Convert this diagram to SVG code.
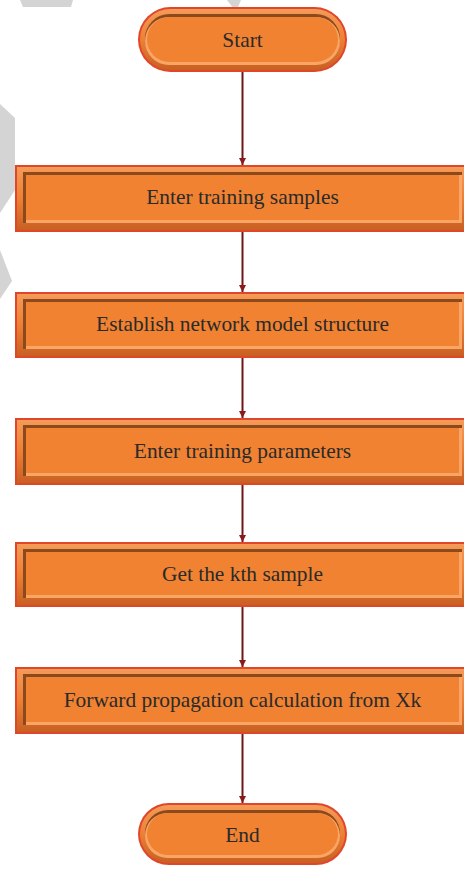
<svg xmlns="http://www.w3.org/2000/svg" width="464" height="869" viewBox="0 0 464 869">
<defs>
<style>
.bord{fill:#E0462A}
.band{fill:url(#bandG)}
.dk{fill:#8C4A1C}
.lt{fill:#F8A565}
.main{fill:#F08232}
.lbl{font-family:"Liberation Serif","Times New Roman",serif;font-size:21.4px;fill:#2a2a2a;text-anchor:middle}
.wm{fill:#D4D4D4}
.conn{stroke:#6E1616;stroke-width:2;fill:none}
</style>
<linearGradient id="bandG" x1="0" y1="0" x2="0" y2="1">
<stop offset="0" stop-color="#F59A58"/>
<stop offset="0.5" stop-color="#EE8034"/>
<stop offset="1" stop-color="#C86022"/>
</linearGradient>
<marker id="ah" viewBox="0 0 10 10" refX="10" refY="5" markerWidth="7" markerHeight="7" orient="auto" markerUnits="userSpaceOnUse">
<path d="M0,0 L10,5 L0,10 z" fill="#8B1A1A"/>
</marker>
</defs>
<rect width="464" height="869" fill="#ffffff"/>
<g id="watermark">
<polygon class="wm" points="20,0 73,0 71,7 23,7"/>
<polygon class="wm" points="227,0 241,0 236,12"/>
<polygon class="wm" points="0,104 15,118 15,190 0,213"/>
<polygon class="wm" points="0,250 12,281 0,299"/>
</g>
<g id="connectors">
<line class="conn" x1="242.5" y1="72" x2="242.5" y2="165" marker-end="url(#ah)"/>
<line class="conn" x1="242.5" y1="232" x2="242.5" y2="292" marker-end="url(#ah)"/>
<line class="conn" x1="242.5" y1="358" x2="242.5" y2="418" marker-end="url(#ah)"/>
<line class="conn" x1="242.5" y1="485" x2="242.5" y2="542" marker-end="url(#ah)"/>
<line class="conn" x1="242.5" y1="607" x2="242.5" y2="667" marker-end="url(#ah)"/>
<line class="conn" x1="242.5" y1="734" x2="242.5" y2="803" marker-end="url(#ah)"/>
</g>
<g id="start">
<rect class="bord" x="138" y="7" width="209" height="65" rx="32.5"/>
<rect class="band" x="140" y="9" width="205" height="61" rx="30.5"/>
<rect class="dk" x="145" y="14" width="195" height="49" rx="24.5"/>
<rect class="lt" x="145" y="17" width="195" height="48" rx="24"/>
<rect class="main" x="147" y="17" width="191" height="45" rx="22.5"/>
<text class="lbl" x="242.5" y="47">Start</text>
</g>
<g id="n1">
<rect class="bord" x="15" y="165" width="460" height="67"/>
<rect class="band" x="17" y="167" width="458" height="63"/>
<rect class="dk" x="23" y="172" width="439" height="51"/>
<rect class="lt" x="26" y="175" width="436" height="48"/>
<rect class="main" x="26" y="175" width="433" height="45"/>
<text class="lbl" x="242.5" y="204">Enter training samples</text>
</g>
<g id="n2">
<rect class="bord" x="15" y="292" width="460" height="66"/>
<rect class="band" x="17" y="294" width="458" height="62"/>
<rect class="dk" x="23" y="299" width="439" height="50"/>
<rect class="lt" x="26" y="302" width="436" height="47"/>
<rect class="main" x="26" y="302" width="433" height="44"/>
<text class="lbl" x="242.5" y="331">Establish network model structure</text>
</g>
<g id="n3">
<rect class="bord" x="15" y="418" width="460" height="67"/>
<rect class="band" x="17" y="420" width="458" height="63"/>
<rect class="dk" x="23" y="425" width="439" height="51"/>
<rect class="lt" x="26" y="428" width="436" height="48"/>
<rect class="main" x="26" y="428" width="433" height="45"/>
<text class="lbl" x="242.5" y="458">Enter training parameters</text>
</g>
<g id="n4">
<rect class="bord" x="15" y="542" width="460" height="65"/>
<rect class="band" x="17" y="544" width="458" height="61"/>
<rect class="dk" x="23" y="549" width="439" height="49"/>
<rect class="lt" x="26" y="552" width="436" height="46"/>
<rect class="main" x="26" y="552" width="433" height="43"/>
<text class="lbl" x="242.5" y="581">Get the kth sample</text>
</g>
<g id="n5">
<rect class="bord" x="15" y="667" width="460" height="67"/>
<rect class="band" x="17" y="669" width="458" height="63"/>
<rect class="dk" x="23" y="674" width="439" height="51"/>
<rect class="lt" x="26" y="677" width="436" height="48"/>
<rect class="main" x="26" y="677" width="433" height="45"/>
<text class="lbl" x="242.5" y="707">Forward propagation calculation from Xk</text>
</g>
<g id="end">
<rect class="bord" x="138" y="803" width="209" height="62" rx="31"/>
<rect class="band" x="140" y="805" width="205" height="58" rx="29"/>
<rect class="dk" x="145" y="810" width="195" height="46" rx="23"/>
<rect class="lt" x="145" y="813" width="195" height="45" rx="22.5"/>
<rect class="main" x="147" y="813" width="191" height="42" rx="21"/>
<text class="lbl" x="242.5" y="842">End</text>
</g>
</svg>
